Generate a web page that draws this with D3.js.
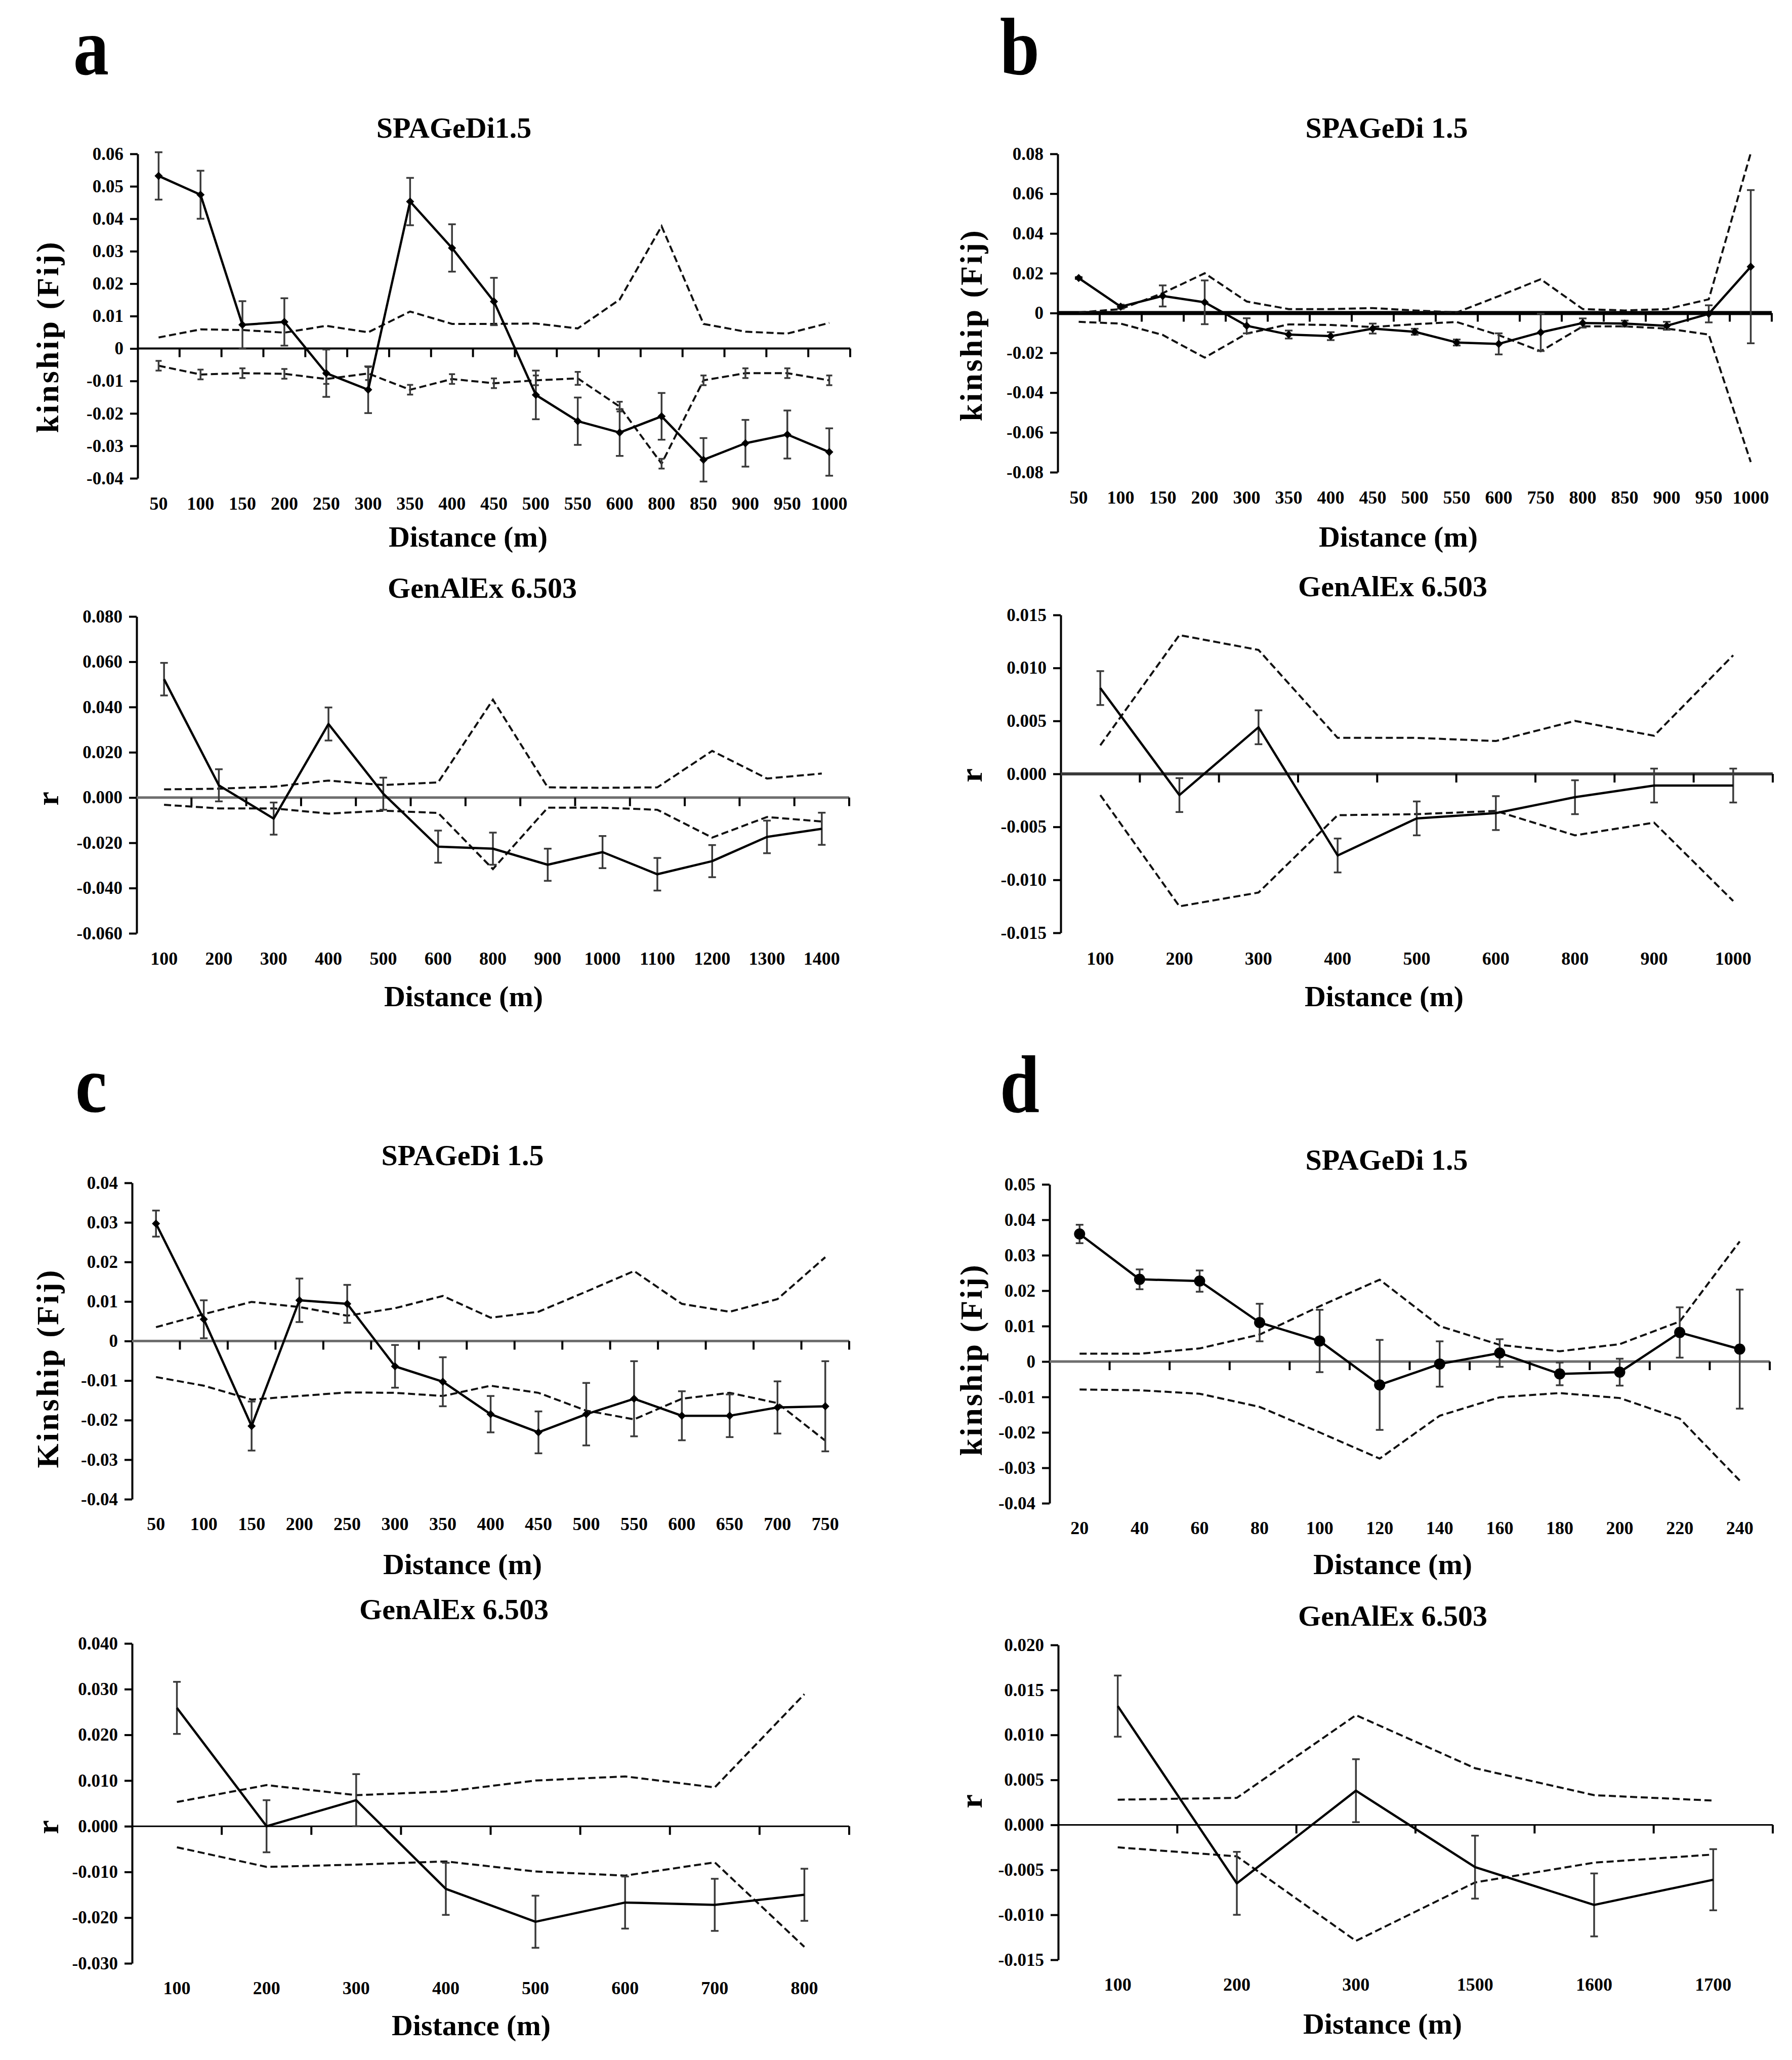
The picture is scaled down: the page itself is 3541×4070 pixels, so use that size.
<!DOCTYPE html>
<html>
<head>
<meta charset="utf-8">
<script src="https://cdn.jsdelivr.net/npm/d3@7"></script>
<style>
  body { margin:0; background:#fff; }
  text { font-family:"Liberation Serif","Times New Roman",serif; font-weight:bold; fill:#000; }
</style>
</head>
<body>
<div id="chart"></div>
<script>
// a, top: SPAGeDi1.5
var a1_dist   = ["50","100","150","200","250","300","350","400","450","500","550","600","800","850","900","950","1000"];
var a1_obs    = [0.0532,0.0474,0.0073,0.0082,-0.0076,-0.0127,0.0453,0.0310,0.0145,-0.0143,-0.0224,-0.0259,-0.0209,-0.0343,-0.0292,-0.0265,-0.0319];
var a1_err    = [0.0073,0.0074,0.0073,0.0073,0.0073,0.0072,0.0073,0.0073,0.0073,0.0075,0.0073,0.0072,0.0072,0.0067,0.0072,0.0074,0.0073];
var a1_up     = [0.0034,0.0059,0.0057,0.0049,0.0070,0.0050,0.0114,0.0076,0.0076,0.0077,0.0062,0.0151,0.0377,0.0076,0.0052,0.0046,0.0079];
var a1_lo     = [-0.0053,-0.0080,-0.0076,-0.0078,-0.0094,-0.0077,-0.0127,-0.0094,-0.0107,-0.0098,-0.0092,-0.0179,-0.0355,-0.0098,-0.0076,-0.0076,-0.0098];
var a1_lo_err = [0.0015,0.0015,0.0015,0.0015,0.0015,0.0020,0.0015,0.0015,0.0015,0.0015,0.0020,0.0015,0.0015,0.0015,0.0015,0.0015,0.0015];
var a1_ticks  = [0.06,0.05,0.04,0.03,0.02,0.01,0,-0.01,-0.02,-0.03,-0.04];

// a, bottom: GenAlEx 6.503
var a2_dist   = ["100","200","300","400","500","600","800","900","1000","1100","1200","1300","1400"];
var a2_obs    = [0.0523,0.0054,-0.0093,0.0325,0.0017,-0.0217,-0.0226,-0.0297,-0.0241,-0.0339,-0.0281,-0.0174,-0.0138];
var a2_err    = [0.0072,0.0071,0.0071,0.0073,0.0071,0.0071,0.0071,0.0071,0.0071,0.0072,0.0071,0.0072,0.0071];
var a2_up     = [0.0036,0.0039,0.0048,0.0075,0.0055,0.0067,0.0432,0.0045,0.0043,0.0045,0.0206,0.0084,0.0106];
var a2_lo     = [-0.0032,-0.0048,-0.0048,-0.0071,-0.0058,-0.0068,-0.0316,-0.0045,-0.0045,-0.0054,-0.0177,-0.0086,-0.0106];
var a2_ticks  = [0.08,0.06,0.04,0.02,0,-0.02,-0.04,-0.06];

// b, top: SPAGeDi 1.5
var b1_dist   = ["50","100","150","200","300","350","400","450","500","550","600","750","800","850","900","950","1000"];
var b1_obs    = [0.0176,0.0032,0.0086,0.0054,-0.0064,-0.0108,-0.0116,-0.0078,-0.0094,-0.0148,-0.0155,-0.0097,-0.0050,-0.0053,-0.0064,-0.0004,0.0233];
var b1_err    = [0.0005,0.0010,0.0053,0.0110,0.0038,0.0020,0.0020,0.0025,0.0015,0.0015,0.0053,0.0094,0.0023,0.0015,0.0020,0.0043,0.0385];
var b1_up     = [0.0003,0.0020,0.0100,0.0200,0.0058,0.0020,0.0020,0.0025,0.0013,0.0003,0.0085,0.0170,0.0020,0.0013,0.0020,0.0069,0.0804];
var b1_lo     = [-0.0044,-0.0053,-0.0110,-0.0224,-0.0103,-0.0057,-0.0060,-0.0070,-0.0056,-0.0045,-0.0111,-0.0192,-0.0067,-0.0067,-0.0078,-0.0108,-0.0749];
var b1_ticks  = [0.08,0.06,0.04,0.02,0,-0.02,-0.04,-0.06,-0.08];

// b, bottom: GenAlEx 6.503
var b2_dist   = ["100","200","300","400","500","600","800","900","1000"];
var b2_obs    = [0.0081,-0.0020,0.0044,-0.0077,-0.0042,-0.0037,-0.0022,-0.0011,-0.0011];
var b2_err    = [0.0016,0.0016,0.0016,0.0016,0.0016,0.0016,0.0016,0.0016,0.0016];
var b2_up     = [0.0027,0.0131,0.0117,0.0034,0.0034,0.0031,0.0050,0.0036,0.0112];
var b2_lo     = [-0.0020,-0.0125,-0.0112,-0.0039,-0.0038,-0.0035,-0.0058,-0.0046,-0.0120];
var b2_ticks  = [0.015,0.01,0.005,0,-0.005,-0.01,-0.015];

// c, top: SPAGeDi 1.5
var c1_dist   = ["50","100","150","200","250","300","350","400","450","500","550","600","650","700","750"];
var c1_obs    = [0.0297,0.0055,-0.0215,0.0103,0.0094,-0.0064,-0.0103,-0.0185,-0.0231,-0.0185,-0.0146,-0.0189,-0.0189,-0.0168,-0.0165];
var c1_err    = [0.0033,0.0048,0.0062,0.0055,0.0048,0.0054,0.0062,0.0046,0.0053,0.0079,0.0095,0.0062,0.0054,0.0066,0.0114];
var c1_up     = [0.0035,0.0068,0.0099,0.0086,0.0064,0.0083,0.0114,0.0059,0.0074,0.0125,0.0177,0.0094,0.0074,0.0106,0.0212];
var c1_lo     = [-0.0091,-0.0113,-0.0148,-0.0139,-0.0130,-0.0131,-0.0139,-0.0113,-0.0131,-0.0176,-0.0198,-0.0146,-0.0131,-0.0157,-0.0252];
var c1_ticks  = [0.04,0.03,0.02,0.01,0,-0.01,-0.02,-0.03,-0.04];

// c, bottom: GenAlEx 6.503
var c2_dist   = ["100","200","300","400","500","600","700","800"];
var c2_obs    = [0.0259,0.0000,0.0057,-0.0137,-0.0209,-0.0167,-0.0172,-0.0150];
var c2_err    = [0.0057,0.0057,0.0057,0.0057,0.0057,0.0057,0.0057,0.0057];
var c2_up     = [0.0053,0.0090,0.0068,0.0076,0.0100,0.0109,0.0085,0.0289];
var c2_lo     = [-0.0046,-0.0089,-0.0084,-0.0077,-0.0099,-0.0108,-0.0079,-0.0264];
var c2_ticks  = [0.04,0.03,0.02,0.01,0,-0.01,-0.02,-0.03];

// d, top: SPAGeDi 1.5
var d1_dist   = ["20","40","60","80","100","120","140","160","180","200","220","240"];
var d1_obs    = [0.0360,0.0232,0.0227,0.0110,0.0058,-0.0066,-0.0007,0.0024,-0.0035,-0.0030,0.0082,0.0035];
var d1_err    = [0.0026,0.0028,0.0030,0.0053,0.0088,0.0127,0.0064,0.0039,0.0032,0.0038,0.0071,0.0168];
var d1_up     = [0.0022,0.0022,0.0037,0.0076,0.0156,0.0231,0.0100,0.0047,0.0029,0.0049,0.0113,0.0339];
var d1_lo     = [-0.0079,-0.0081,-0.0091,-0.0128,-0.0200,-0.0274,-0.0153,-0.0101,-0.0089,-0.0103,-0.0161,-0.0336];
var d1_ticks  = [0.05,0.04,0.03,0.02,0.01,0,-0.01,-0.02,-0.03,-0.04];

// d, bottom: GenAlEx 6.503
var d2_dist   = ["100","200","300","1500","1600","1700"];
var d2_obs    = [0.0132,-0.0065,0.0038,-0.0047,-0.0089,-0.0061];
var d2_err    = [0.0034,0.0035,0.0035,0.0035,0.0035,0.0034];
var d2_up     = [0.0028,0.0030,0.0122,0.0063,0.0033,0.0027];
var d2_lo     = [-0.0025,-0.0035,-0.0129,-0.0064,-0.0042,-0.0033];
var d2_ticks  = [0.02,0.015,0.01,0.005,0,-0.005,-0.01,-0.015];

var fmt_2 = function (d) { return d === 0 ? "0" : (d < 0 ? "-" : "") + Math.abs(d).toFixed(2); };
var fmt_3 = function (d) { return (d < 0 ? "-" : "") + Math.abs(d).toFixed(3); };

var panels = [
  { title:"SPAGeDi1.5",    ylab:"kinship (Fij)", dist:a1_dist, obs:a1_obs, err:a1_err, up:a1_up, lo:a1_lo, lo_err:a1_lo_err, ticks:a1_ticks, fmt:fmt_2,
    x0:272,  x1:1680, y0:304,  y1:945,  title_x:897,  title_y:252,  tick_y:994,  xlab_x:925,  xlab_y:1060, ylab_x:93,   ylab_y:665,
    marker:"diamond", zero_color:"#000", zero_w:4 },
  { title:"GenAlEx 6.503", ylab:"r", dist:a2_dist, obs:a2_obs, err:a2_err, up:a2_up, lo:a2_lo, ticks:a2_ticks, fmt:fmt_3,
    x0:270,  x1:1678, y0:1218, y1:1844, title_x:953,  title_y:1161, tick_y:1893, xlab_x:916,  xlab_y:1968, ylab_x:93,   ylab_y:1576,
    marker:null, zero_color:"#6e6e6e", zero_w:5 },
  { title:"SPAGeDi 1.5",   ylab:"kinship (Fij)", dist:b1_dist, obs:b1_obs, err:b1_err, up:b1_up, lo:b1_lo, ticks:b1_ticks, fmt:fmt_2,
    x0:2090, x1:3501, y0:304,  y1:933,  title_x:2740, title_y:252,  tick_y:982,  xlab_x:2763, xlab_y:1060, ylab_x:1918, ylab_y:642,
    marker:"diamond", zero_color:"#000", zero_w:8 },
  { title:"GenAlEx 6.503", ylab:"r", dist:b2_dist, obs:b2_obs, err:b2_err, up:b2_up, lo:b2_lo, ticks:b2_ticks, fmt:fmt_3,
    x0:2096, x1:3503, y0:1215, y1:1843, title_x:2752, title_y:1158, tick_y:1893, xlab_x:2735, xlab_y:1968, ylab_x:1918, ylab_y:1530,
    marker:null, zero_color:"#3a3a3a", zero_w:6 },
  { title:"SPAGeDi 1.5",   ylab:"Kinship (Fij)", dist:c1_dist, obs:c1_obs, err:c1_err, up:c1_up, lo:c1_lo, ticks:c1_ticks, fmt:fmt_2,
    x0:261,  x1:1678, y0:2337, y1:2962, title_x:914,  title_y:2282, tick_y:3010, xlab_x:914,  xlab_y:3090, ylab_x:93,   ylab_y:2703,
    marker:"diamond", zero_color:"#6e6e6e", zero_w:5 },
  { title:"GenAlEx 6.503", ylab:"r", dist:c2_dist, obs:c2_obs, err:c2_err, up:c2_up, lo:c2_lo, ticks:c2_ticks, fmt:fmt_3,
    x0:261,  x1:1678, y0:3247, y1:3879, title_x:897,  title_y:3179, tick_y:3927, xlab_x:931,  xlab_y:4001, ylab_x:93,   ylab_y:3608,
    marker:null, zero_color:"#000", zero_w:3 },
  { title:"SPAGeDi 1.5",   ylab:"kinship (Fij)", dist:d1_dist, obs:d1_obs, err:d1_err, up:d1_up, lo:d1_lo, ticks:d1_ticks, fmt:fmt_2,
    x0:2074, x1:3497, y0:2340, y1:2970, title_x:2740, title_y:2291, tick_y:3018, xlab_x:2752, xlab_y:3090, ylab_x:1918, ylab_y:2686,
    marker:"circle", zero_color:"#6e6e6e", zero_w:5 },
  { title:"GenAlEx 6.503", ylab:"r", dist:d2_dist, obs:d2_obs, err:d2_err, up:d2_up, lo:d2_lo, ticks:d2_ticks, fmt:fmt_3,
    x0:2091, x1:3503, y0:3250, y1:3872, title_x:2752, title_y:3192, tick_y:3920, xlab_x:2732, xlab_y:3998, ylab_x:1918, ylab_y:3557,
    marker:null, zero_color:"#000", zero_w:3 }
];

var letters = [
  { s:"a", x:180,  y:147 },
  { s:"b", x:2015, y:147 },
  { s:"c", x:180,  y:2197 },
  { s:"d", x:2015, y:2197 }
];

var svg = d3.select("#chart").append("svg")
  .attr("width", 3541)
  .attr("height", 4070)
  .style("background", "#fff");

function put_text (g, x, y, s, size, rotate) {
  return g.append("text")
    .attr("transform", "translate(" + x + "," + y + ")" + (rotate ? " rotate(-90)" : ""))
    .attr("text-anchor", "middle")
    .attr("dy", "0.35em")
    .style("font-size", size + "px")
    .text(s);
}

function draw_panel (p) {
  var g = svg.append("g");
  var x = d3.scaleBand().domain(p.dist).range([p.x0, p.x1]);
  var y = d3.scaleLinear().domain([p.ticks[p.ticks.length - 1], p.ticks[0]]).range([p.y1, p.y0]);
  var cx = function (d) { return x(d.k) + x.bandwidth()/2; };
  var rows = p.dist.map(function (k, i) {
    return { k:k, obs:p.obs[i], err:p.err[i], up:p.up[i], lo:p.lo[i], lo_err:p.lo_err ? p.lo_err[i] : null };
  });

  put_text(g, p.title_x, p.title_y, p.title, 58);
  put_text(g, p.xlab_x, p.xlab_y, "Distance (m)", 58);
  put_text(g, p.ylab_x, p.ylab_y, p.ylab, 62, true).style("letter-spacing", "4px");

  // y axis, ticks outside on the left
  var y_axis = g.append("g")
    .attr("transform", "translate(" + p.x0 + ",0)")
    .call(d3.axisLeft(y).tickValues(p.ticks).tickFormat(p.fmt).tickSizeInner(15).tickSizeOuter(0).tickPadding(13));
  y_axis.attr("font-family", null).attr("font-size", null);
  y_axis.select(".domain").attr("stroke", "#000").attr("stroke-width", 4);
  y_axis.selectAll(".tick line").attr("stroke", "#000").attr("stroke-width", 4);
  y_axis.selectAll(".tick text").style("font-size", "35px");

  // category labels sit below the plot
  var x_axis = g.append("g")
    .attr("transform", "translate(0," + p.tick_y + ")")
    .call(d3.axisBottom(x).tickSize(0).tickPadding(0));
  x_axis.attr("font-family", null).attr("font-size", null);
  x_axis.select(".domain").remove();
  x_axis.selectAll(".tick text")
    .attr("y", 0)
    .attr("dy", "0.35em")
    .style("font-size", "36px");

  // zero line with ticks between categories
  g.append("line")
    .attr("x1", p.x0).attr("x2", p.x1)
    .attr("y1", y(0)).attr("y2", y(0))
    .attr("stroke", p.zero_color)
    .attr("stroke-width", p.zero_w);
  var bounds = p.dist.slice(1).map(function (k) { return x(k); }).concat([p.x1]);
  g.selectAll(".xtick").data(bounds).enter().append("line")
    .attr("x1", function (d) { return d; }).attr("x2", function (d) { return d; })
    .attr("y1", y(0)).attr("y2", y(0) + 17)
    .attr("stroke", "#000")
    .attr("stroke-width", 4);

  // 95% confidence envelope
  ["up", "lo"].forEach(function (key) {
    g.append("path")
      .datum(rows)
      .attr("fill", "none")
      .attr("stroke", "#111")
      .attr("stroke-width", 4)
      .attr("stroke-dasharray", "14,7")
      .attr("d", d3.line().x(cx).y(function (d) { return y(d[key]); }));
  });

  function error_bars (key, err_key, cap) {
    var eb = g.selectAll(".eb_" + key).data(rows.filter(function (d) { return d[err_key] != null; })).enter().append("g");
    eb.append("line")
      .attr("x1", cx).attr("x2", cx)
      .attr("y1", function (d) { return y(d[key] + d[err_key]); })
      .attr("y2", function (d) { return y(d[key] - d[err_key]); });
    eb.append("line")
      .attr("x1", function (d) { return cx(d) - cap; }).attr("x2", function (d) { return cx(d) + cap; })
      .attr("y1", function (d) { return y(d[key] + d[err_key]); })
      .attr("y2", function (d) { return y(d[key] + d[err_key]); });
    eb.append("line")
      .attr("x1", function (d) { return cx(d) - cap; }).attr("x2", function (d) { return cx(d) + cap; })
      .attr("y1", function (d) { return y(d[key] - d[err_key]); })
      .attr("y2", function (d) { return y(d[key] - d[err_key]); });
    eb.selectAll("line").attr("stroke", "#3a3a3a").attr("stroke-width", 3.5);
  }
  if (p.lo_err) error_bars("lo", "lo_err", 6);
  error_bars("obs", "err", 7.5);

  // observed kinship
  g.append("path")
    .datum(rows)
    .attr("fill", "none")
    .attr("stroke", "#000")
    .attr("stroke-width", 4.5)
    .attr("stroke-linejoin", "round")
    .attr("d", d3.line().x(cx).y(function (d) { return y(d.obs); }));

  if (p.marker) {
    var sym = p.marker == "circle" ? d3.symbol(d3.symbolCircle).size(380) : d3.symbol(d3.symbolSquare).size(130);
    g.selectAll(".mk").data(rows).enter().append("path")
      .attr("d", sym)
      .attr("transform", function (d) { return "translate(" + cx(d) + "," + y(d.obs) + ")" + (p.marker == "circle" ? "" : " rotate(45)"); })
      .attr("fill", "#000");
  }
}

panels.forEach(draw_panel);

letters.forEach(function (l) {
  svg.append("text")
    .attr("transform", "translate(" + l.x + "," + l.y + ") scale(0.88,1)")
    .attr("text-anchor", "middle")
    .style("font-size", "160px")
    .text(l.s);
});
</script>
</body>
</html>
